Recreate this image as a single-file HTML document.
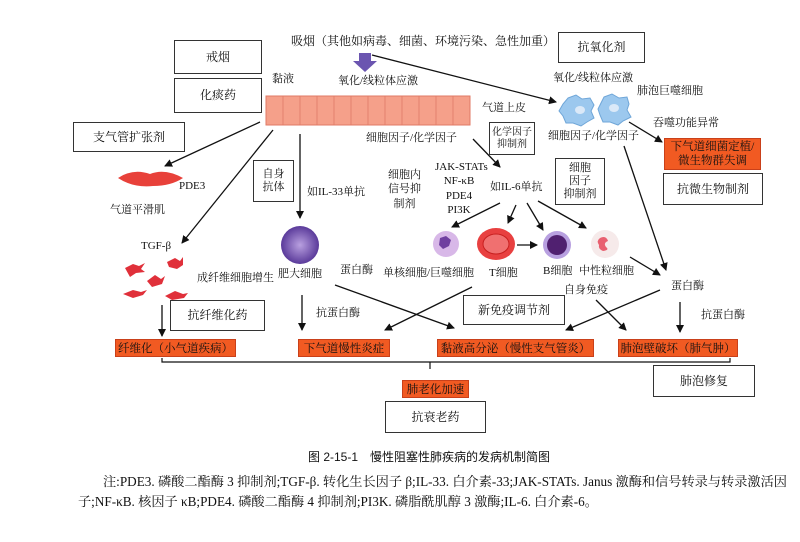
<!DOCTYPE html>
<html><head><meta charset="utf-8"><style>
body{margin:0;width:800px;height:542px;background:#fff;position:relative;overflow:hidden;font-family:"Liberation Serif","Noto Serif CJK SC","Noto Sans CJK SC",serif;color:#111}
.t{position:absolute;font-size:11px;white-space:nowrap;line-height:1.15}
.b{position:absolute;border:1.3px solid #333;background:#fff;display:flex;align-items:center;justify-content:center;text-align:center;font-size:12px;line-height:1.2;box-sizing:border-box}
.o{position:absolute;background:#f15a22;border:1px solid #c9401a;font-size:11.5px;color:#111;display:flex;align-items:center;justify-content:center;box-sizing:border-box;white-space:nowrap}
svg{position:absolute;left:0;top:0}
</style></head><body>
<svg width="800" height="542">
<defs><marker id="a" markerWidth="8" markerHeight="8" refX="7" refY="4" orient="auto" markerUnits="userSpaceOnUse"><path d="M0,0L8,4L0,8z" fill="#111"/></marker>
<radialGradient id="m" cx=".5" cy=".5" r=".5"><stop offset="0" stop-color="#b9a0e0"/><stop offset="1" stop-color="#5a3a9a"/></radialGradient></defs>
<rect x="266" y="96" width="204" height="29" fill="#f5a08a" stroke="#e07a66"/>
<g stroke="#e07a66" stroke-width="0.8">
<line x1="283" y1="96" x2="283" y2="125"/><line x1="300" y1="96" x2="300" y2="125"/><line x1="317" y1="96" x2="317" y2="125"/><line x1="334" y1="96" x2="334" y2="125"/><line x1="351" y1="96" x2="351" y2="125"/><line x1="368" y1="96" x2="368" y2="125"/><line x1="385" y1="96" x2="385" y2="125"/><line x1="402" y1="96" x2="402" y2="125"/><line x1="419" y1="96" x2="419" y2="125"/><line x1="436" y1="96" x2="436" y2="125"/><line x1="453" y1="96" x2="453" y2="125"/></g>
<path d="M359,53h12v8h6l-12,11-12-11h6z" fill="#6b55b0"/>
<g stroke="#111" stroke-width="1.3" fill="none" marker-end="url(#a)">
<line x1="372" y1="55" x2="556" y2="102"/>
<line x1="260" y1="122" x2="165" y2="166"/>
<line x1="273" y1="130" x2="182" y2="243"/>
<line x1="300" y1="134" x2="300" y2="218"/>
<line x1="473" y1="139" x2="500" y2="167"/>
<line x1="629" y1="122" x2="662" y2="142"/>
<line x1="624" y1="146" x2="666" y2="270"/>
<line x1="500" y1="203" x2="452" y2="227"/>
<line x1="516" y1="205" x2="508" y2="223"/>
<line x1="527" y1="203" x2="543" y2="230"/>
<line x1="538" y1="201" x2="586" y2="228"/>
<line x1="517" y1="245" x2="537" y2="245"/>
<line x1="630" y1="257" x2="660" y2="275"/>
<line x1="162" y1="305" x2="162" y2="336"/>
<line x1="302" y1="295" x2="302" y2="330"/>
<line x1="335" y1="285" x2="454" y2="328"/>
<line x1="472" y1="287" x2="385" y2="330"/>
<line x1="660" y1="290" x2="566" y2="330"/>
<line x1="596" y1="300" x2="626" y2="330"/>
<line x1="680" y1="302" x2="680" y2="332"/>
</g>
<path d="M162,358v4h268v7M430,362h300v-4" stroke="#111" stroke-width="1.2" fill="none"/>
<g fill="#9cc8ee" stroke="#6fa6d8"><path d="M568,98l8,-3 6,4 8,-1 4,7 -3,6 3,7 -7,4 -6,4 -8,-3 -7,0 -3,-7 -4,-5 4,-7z"/><path d="M604,97l8,-3 7,4 8,-1 2,7 -2,6 4,7 -8,4 -5,4 -8,-3 -7,0 -3,-7 -2,-6 3,-6z"/></g>
<ellipse cx="580" cy="110" rx="5" ry="4" fill="#dbe9f8"/><ellipse cx="614" cy="108" rx="5" ry="4" fill="#dbe9f8"/>
<path d="M118,178q15,-10 32,-4q15,-6 33,4q-12,8 -30,8q-20,2 -35,-8z" fill="#e8413a"/>
<g fill="#e0303a"><path d="M125,268l8,-4 6,2 6,-3 -4,6 4,3 -9,1 -6,4z"/><path d="M167,262l8,-4 5,3 3,-4 0,8 -6,4 -8,-2z"/><path d="M147,281l8,-6 6,4 4,-3 -3,8 -10,3z"/><path d="M123,294l10,-4 8,2 6,-2 -4,5 -10,3z"/><path d="M165,296l10,-5 8,3 5,-1 -4,5 -12,2z"/></g>
<circle cx="300" cy="245" r="19" fill="url(#m)"/>
<circle cx="446" cy="244" r="13" fill="#d8b8e8"/><path d="M440,238l6,-2 5,4 -2,6 -6,3 -4,-4z" fill="#7040a0"/>
<ellipse cx="496" cy="244" rx="19" ry="16" fill="#e84040"/><ellipse cx="496" cy="244" rx="13" ry="10" fill="#f07070" stroke="#c82020"/>
<circle cx="557" cy="245" r="14" fill="#b8a0e0"/><circle cx="557" cy="245" r="10" fill="#502070"/>
<circle cx="605" cy="244" r="14" fill="#f6eaea"/><path d="M600,238q6,-3 8,3q-5,2 -2,6q4,3 -3,4q-5,-2 -4,-6q-3,-4 1,-7z" fill="#e86070"/>
</svg>

<div class="t" style="left:291px;top:35px;font-size:12px">吸烟（其他如病毒、细菌、环境污染、急性加重）</div>
<div class="b" style="left:174px;top:40px;width:88px;height:34px">戒烟</div>
<div class="b" style="left:174px;top:78px;width:88px;height:35px">化痰药</div>
<div class="t" style="left:272px;top:73px">黏液</div>
<div class="t" style="left:338px;top:75px">氧化/线粒体应激</div>
<div class="b" style="left:558px;top:32px;width:87px;height:31px">抗氧化剂</div>
<div class="t" style="left:553px;top:72px">氧化/线粒体应激</div>
<div class="t" style="left:637px;top:85px">肺泡巨噬细胞</div>
<div class="t" style="left:482px;top:102px">气道上皮</div>
<div class="t" style="left:653px;top:117px">吞噬功能异常</div>
<div class="b" style="left:73px;top:122px;width:112px;height:30px">支气管扩张剂</div>
<div class="t" style="left:366px;top:132px">细胞因子/化学因子</div>
<div class="b" style="left:489px;top:122px;width:46px;height:33px;font-size:10px;white-space:nowrap">化学因子<br>抑制剂</div>
<div class="t" style="left:548px;top:130px">细胞因子/化学因子</div>
<div class="o" style="left:664px;top:138px;width:97px;height:32px;white-space:normal;line-height:1.25;text-align:center">下气道细菌定植/<br>微生物群失调</div>
<div class="b" style="left:663px;top:173px;width:100px;height:32px">抗微生物制剂</div>
<div class="t" style="left:179px;top:180px">PDE3</div>
<div class="t" style="left:110px;top:204px">气道平滑肌</div>
<div class="b" style="left:253px;top:160px;width:41px;height:42px;font-size:11px">自身<br>抗体</div>
<div class="t" style="left:307px;top:186px">如IL-33单抗</div>
<div class="t" style="left:388px;top:168px;text-align:center;line-height:1.3">细胞内<br>信号抑<br>制剂</div>
<div class="t" style="left:435px;top:160px;text-align:center;line-height:1.3;width:48px">JAK-STATs<br>NF-κB<br>PDE4<br>PI3K</div>
<div class="t" style="left:490px;top:181px">如IL-6单抗</div>
<div class="b" style="left:555px;top:158px;width:50px;height:47px;font-size:11px">细胞<br>因子<br>抑制剂</div>
<div class="t" style="left:141px;top:240px">TGF-β</div>
<div class="t" style="left:197px;top:272px">成纤维细胞增生</div>
<div class="t" style="left:278px;top:268px">肥大细胞</div>
<div class="t" style="left:340px;top:264px">蛋白酶</div>
<div class="t" style="left:383px;top:267px">单核细胞/巨噬细胞</div>
<div class="t" style="left:489px;top:267px">T细胞</div>
<div class="t" style="left:543px;top:265px">B细胞</div>
<div class="t" style="left:579px;top:265px">中性粒细胞</div>
<div class="t" style="left:564px;top:284px">自身免疫</div>
<div class="t" style="left:671px;top:280px">蛋白酶</div>
<div class="b" style="left:170px;top:300px;width:95px;height:31px">抗纤维化药</div>
<div class="t" style="left:316px;top:307px">抗蛋白酶</div>
<div class="b" style="left:463px;top:295px;width:102px;height:30px">新免疫调节剂</div>
<div class="t" style="left:701px;top:309px">抗蛋白酶</div>
<div class="o" style="left:115px;top:339px;width:121px;height:18px">纤维化（小气道疾病）</div>
<div class="o" style="left:298px;top:339px;width:92px;height:18px">下气道慢性炎症</div>
<div class="o" style="left:437px;top:339px;width:157px;height:18px">黏液高分泌（慢性支气管炎）</div>
<div class="o" style="left:618px;top:339px;width:120px;height:18px">肺泡壁破坏（肺气肿）</div>
<div class="b" style="left:653px;top:365px;width:102px;height:32px">肺泡修复</div>
<div class="o" style="left:402px;top:380px;width:67px;height:18px">肺老化加速</div>
<div class="b" style="left:385px;top:401px;width:101px;height:32px">抗衰老药</div>
<div class="t" style="left:308px;top:451px;font-size:12px;font-family:'Liberation Sans','Noto Sans CJK SC',sans-serif">图 2-15-1　慢性阻塞性肺疾病的发病机制简图</div>
<div class="t" style="left:103px;top:474px;font-size:13.2px">注:PDE3. 磷酸二酯酶 3 抑制剂;TGF-β. 转化生长因子 β;IL-33. 白介素-33;JAK-STATs. Janus 激酶和信号转录与转录激活因</div>
<div class="t" style="left:78px;top:494px;font-size:13.2px">子;NF-κB. 核因子 κB;PDE4. 磷酸二酯酶 4 抑制剂;PI3K. 磷脂酰肌醇 3 激酶;IL-6. 白介素-6。</div>
</body></html>
